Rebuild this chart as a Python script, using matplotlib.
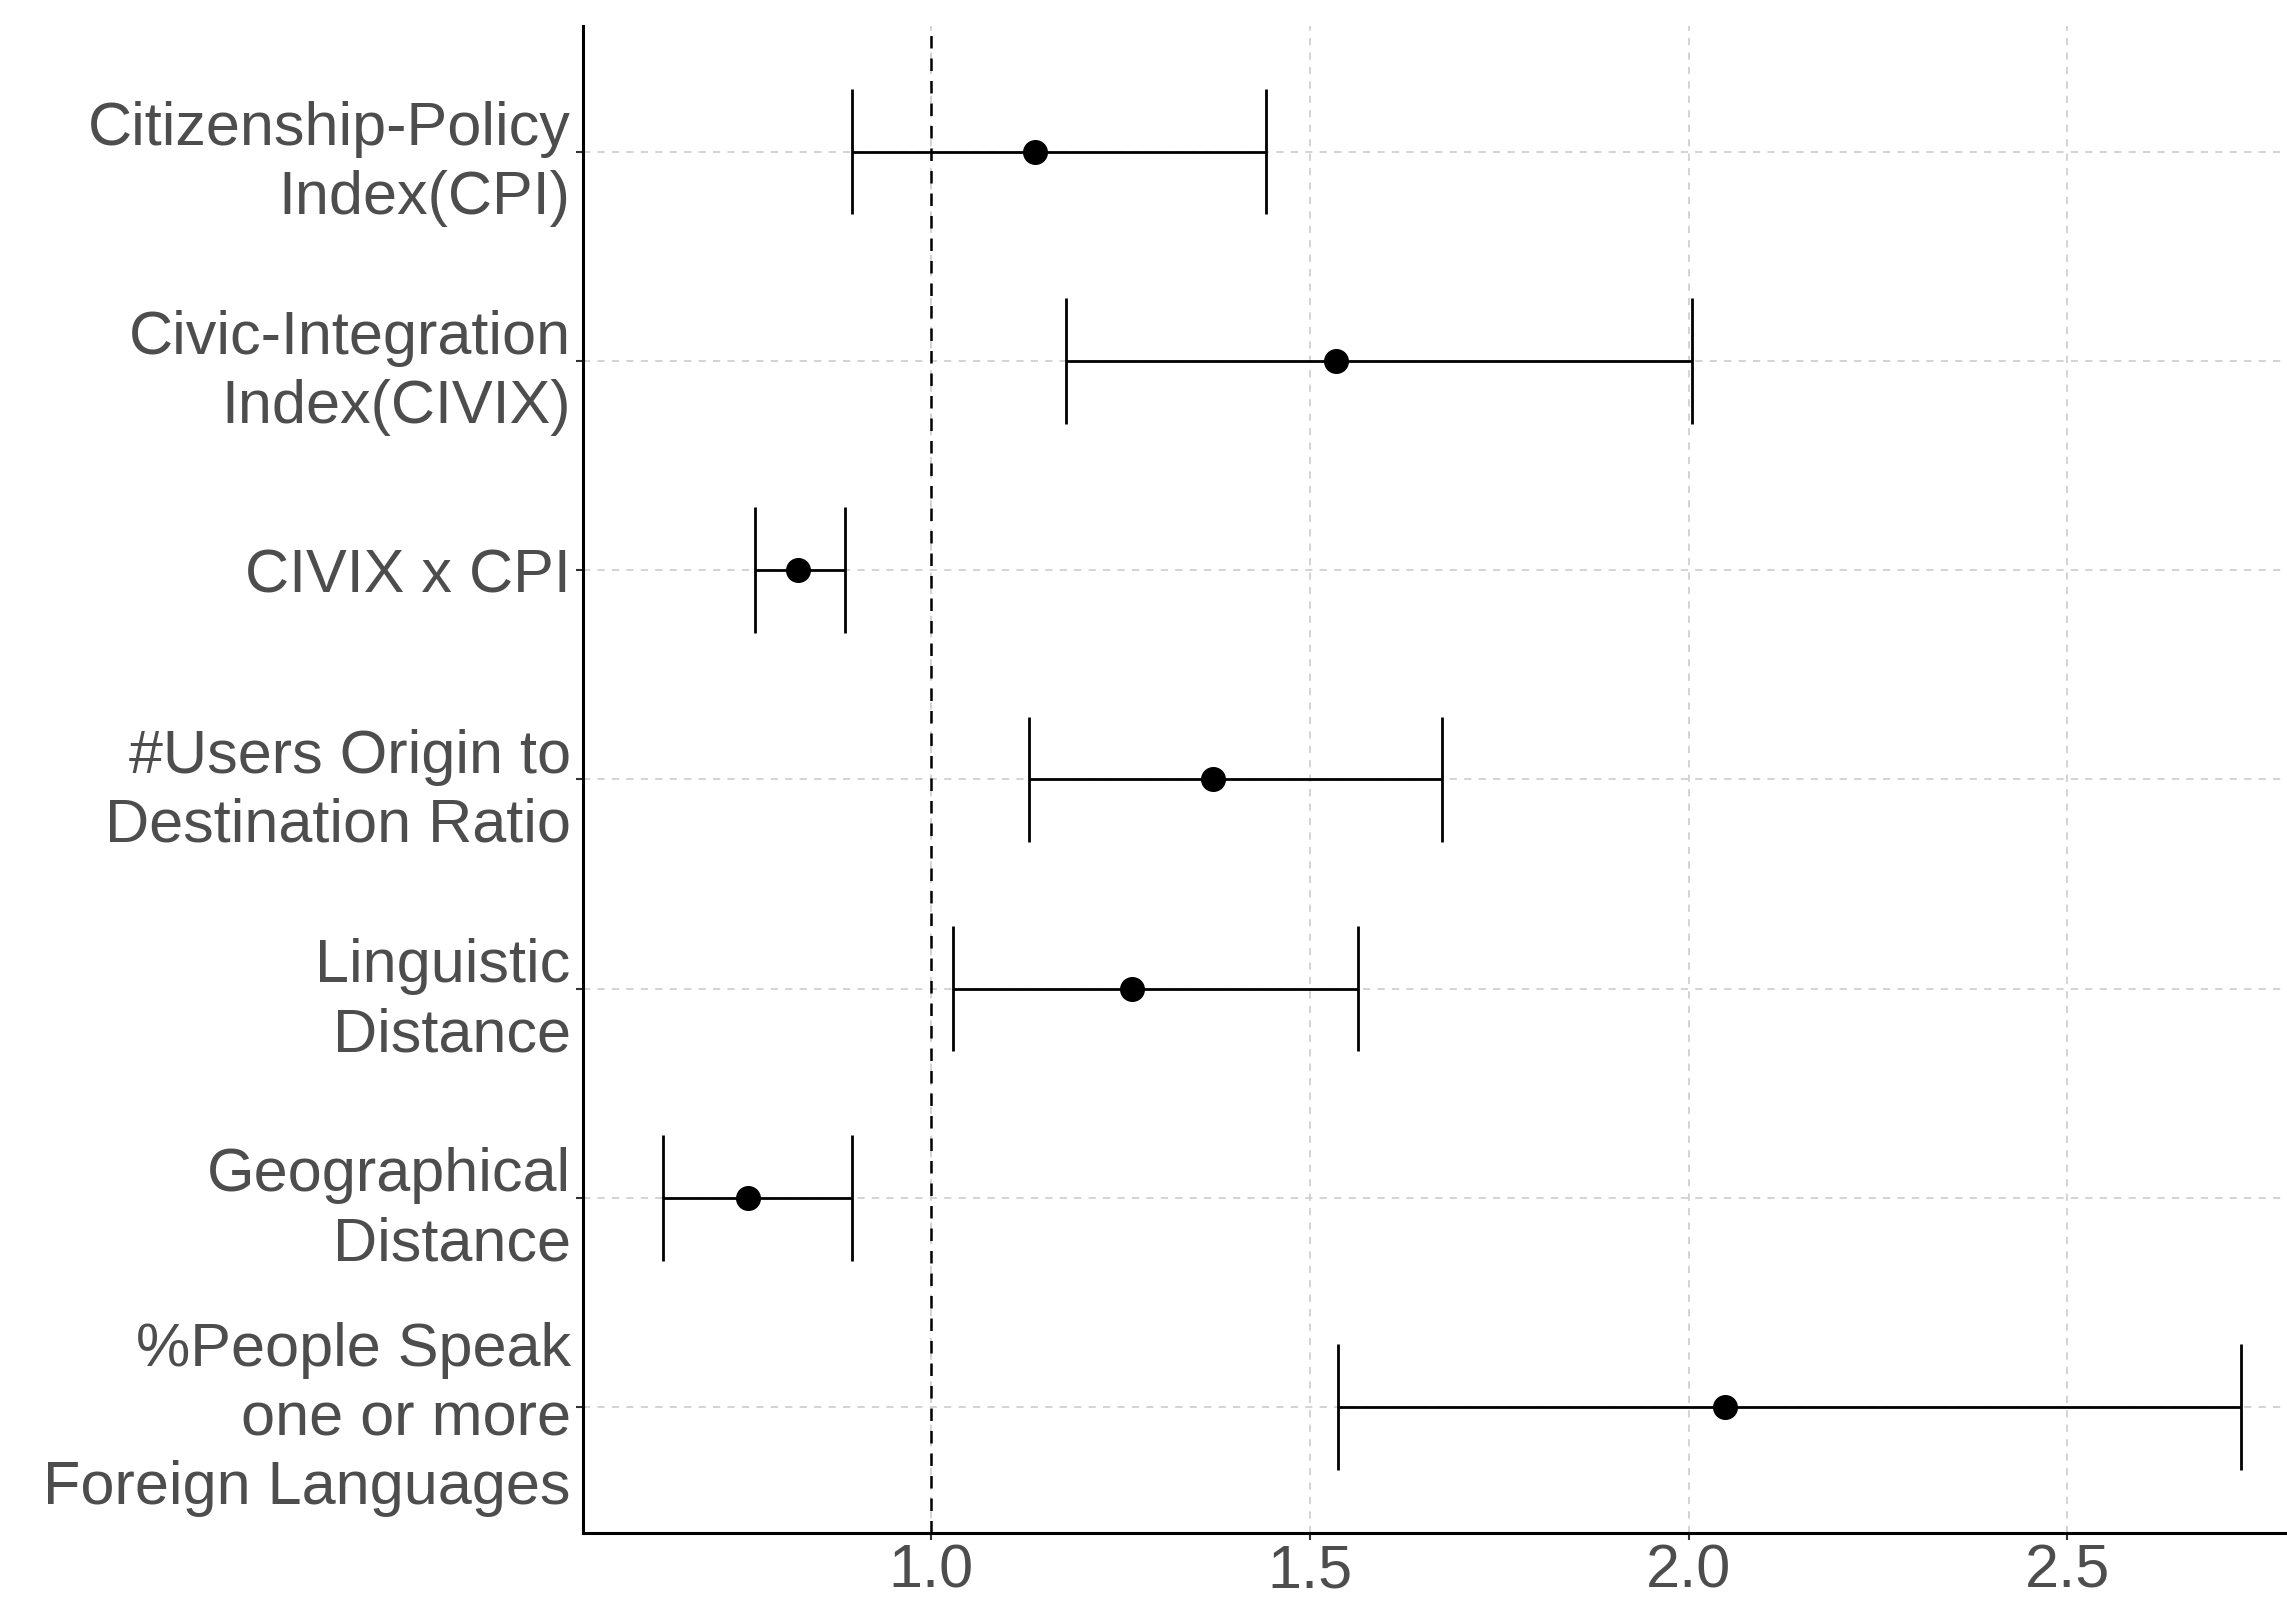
import matplotlib
matplotlib.use('Agg')
import matplotlib.pyplot as plt
import numpy as np

# odds ratios with 95% CI, top to bottom as in the figure
labels = ['Citizenship-Policy\nIndex(CPI)',
          'Civic-Integration\nIndex(CIVIX)',
          'CIVIX x CPI',
          '#Users Origin to\nDestination Ratio',
          'Linguistic\nDistance',
          'Geographical\nDistance',
          '%People Speak\none or more\nForeign Languages']
estimate = [1.137, 1.535, 0.824, 1.373, 1.266, 0.759, 2.048]
lower = [0.896, 1.178, 0.768, 1.129, 1.029, 0.647, 1.537]
upper = [1.442, 2.004, 0.886, 1.674, 1.564, 0.896, 2.729]
xticks = [1.0, 1.5, 2.0, 2.5]

plt.rcParams['font.family'] = ['Liberation Sans', 'DejaVu Sans']

fig = plt.figure(figsize=(22.87, 16.05), dpi=100)
ax = fig.add_axes([0.255, 0.045, 0.745, 0.9388])

n = len(labels)
ypos = np.arange(n, 0, -1)  # first label on top

# grid
for xt in xticks:
    ax.axvline(xt, color='#D0D0D0', lw=1.3, ls=(0, (4, 4)), zorder=0)
for y in ypos:
    ax.axhline(y, color='#D0D0D0', lw=1.3, ls=(0, (4, 4)), zorder=0)

# reference line
ax.axvline(1.0, color='black', lw=1.8, ls=(0, (5, 4)), zorder=1)

# error bars with caps in data units
ax.hlines(ypos, lower, upper, color='black', lw=2.0, zorder=2)
ax.vlines(lower, ypos - 0.3, ypos + 0.3, color='black', lw=2.0, zorder=2)
ax.vlines(upper, ypos - 0.3, ypos + 0.3, color='black', lw=2.0, zorder=2)
ax.plot(estimate, ypos, 'o', color='black', markersize=17, zorder=3)

ax.set_xlim(0.541, 2.79)
ax.set_ylim(0.4, n + 0.6)
ax.set_xticks(xticks)
ax.set_xticklabels(['%.1f' % t for t in xticks])
ax.set_yticks(ypos)
ax.set_yticklabels(labels, linespacing=1.27)

ax.tick_params(axis='both', labelsize=44, labelcolor='#4D4D4D', color='#333333',
               length=5, width=1.5)
ax.tick_params(axis='y', pad=4)
ax.tick_params(axis='x', pad=3)

for side in ['top', 'right']:
    ax.spines[side].set_visible(False)
for side in ['left', 'bottom']:
    ax.spines[side].set_linewidth(2.2)
    ax.spines[side].set_color('black')

fig.savefig('out.png', dpi=100)
